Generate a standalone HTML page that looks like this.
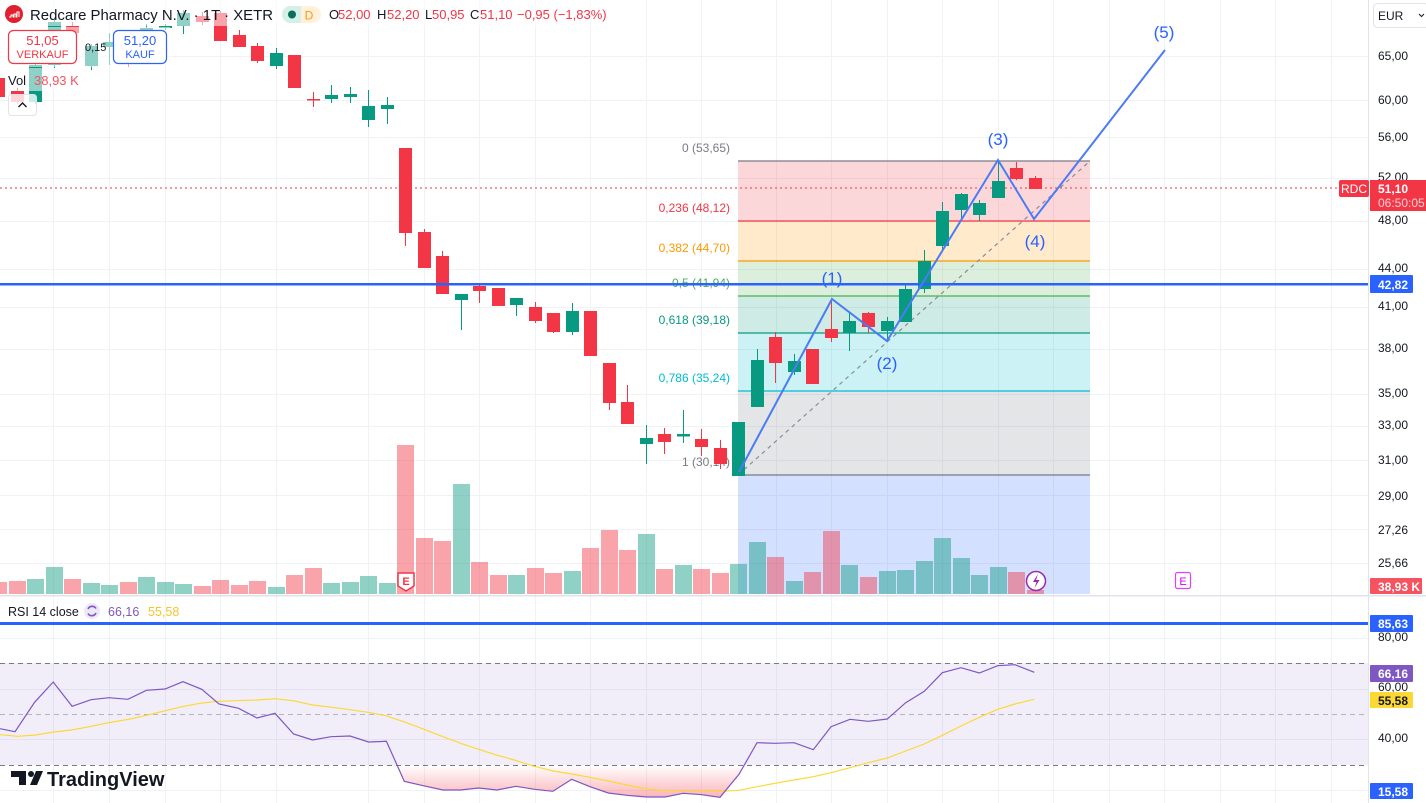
<!DOCTYPE html>
<html><head><meta charset="utf-8"><style>
html,body{margin:0;padding:0;background:#fff;}
svg{display:block;font-family:"Liberation Sans",Arial,sans-serif;}
</style></head><body>
<svg width="1426" height="803" viewBox="0 0 1426 803" xmlns="http://www.w3.org/2000/svg">
<rect width="1426" height="803" fill="#fff"/>
<!-- vertical grid -->
<g stroke="#f0f2f5" stroke-width="1">
<path d="M53.5 0V803M109.5 0V803M165.5 0V803M220.5 0V803M276.5 0V803M368.5 0V803M424.5 0V803M479.5 0V803M535.5 0V803M590.5 0V803M646.5 0V803M701.5 0V803M776.5 0V803M831.5 0V803M887.5 0V803M942.5 0V803M998.5 0V803M1053.5 0V803M1109.5 0V803M1164.5 0V803M1220.5 0V803M1275.5 0V803M1331.5 0V803"/>
<path d="M0 56.5H1368M0 100.5H1368M0 137.5H1368M0 178.5H1368M0 221.5H1368M0 269.5H1368M0 307.5H1368M0 349.5H1368M0 394.5H1368M0 426.5H1368M0 460.5H1368M0 495.5H1368M0 529.5H1368M0 563.5H1368"/>
<path d="M0 638.5H1368M0 689.5H1368M0 739.5H1368M0 790.5H1368"/>
</g>

<!-- Fib fills -->
<rect x="738" y="161" width="352" height="60" fill="rgba(242,54,69,0.2)"/>
<rect x="738" y="221" width="352" height="40" fill="rgba(255,152,0,0.2)"/>
<rect x="738" y="261" width="352" height="35" fill="rgba(76,175,80,0.2)"/>
<rect x="738" y="296" width="352" height="37" fill="rgba(8,153,129,0.2)"/>
<rect x="738" y="333" width="352" height="58" fill="rgba(0,188,212,0.2)"/>
<rect x="738" y="391" width="352" height="84" fill="rgba(120,123,134,0.2)"/>
<rect x="738" y="475" width="352" height="119" fill="rgba(41,98,255,0.2)"/>

<!-- Volume -->
<g>
<rect x="-10" y="582" width="17" height="12" fill="rgba(242,54,69,0.45)"/>
<rect x="9" y="581" width="17" height="13" fill="rgba(242,54,69,0.45)"/>
<rect x="27" y="579" width="17" height="15" fill="rgba(8,153,129,0.45)"/>
<rect x="46" y="567" width="17" height="27" fill="rgba(8,153,129,0.45)"/>
<rect x="64" y="579" width="17" height="15" fill="rgba(242,54,69,0.45)"/>
<rect x="83" y="583" width="17" height="11" fill="rgba(8,153,129,0.45)"/>
<rect x="101" y="585" width="17" height="9" fill="rgba(8,153,129,0.45)"/>
<rect x="120" y="582" width="17" height="12" fill="rgba(242,54,69,0.45)"/>
<rect x="138" y="577" width="17" height="17" fill="rgba(8,153,129,0.45)"/>
<rect x="157" y="582" width="17" height="12" fill="rgba(8,153,129,0.45)"/>
<rect x="175" y="584" width="17" height="10" fill="rgba(8,153,129,0.45)"/>
<rect x="194" y="586" width="17" height="8" fill="rgba(242,54,69,0.45)"/>
<rect x="212" y="580" width="17" height="14" fill="rgba(242,54,69,0.45)"/>
<rect x="231" y="585" width="17" height="9" fill="rgba(242,54,69,0.45)"/>
<rect x="249" y="581" width="17" height="13" fill="rgba(242,54,69,0.45)"/>
<rect x="268" y="587" width="17" height="7" fill="rgba(8,153,129,0.45)"/>
<rect x="286" y="575" width="17" height="19" fill="rgba(242,54,69,0.45)"/>
<rect x="305" y="568" width="17" height="26" fill="rgba(242,54,69,0.45)"/>
<rect x="323" y="583" width="17" height="11" fill="rgba(8,153,129,0.45)"/>
<rect x="342" y="582" width="17" height="12" fill="rgba(8,153,129,0.45)"/>
<rect x="360" y="576" width="17" height="18" fill="rgba(8,153,129,0.45)"/>
<rect x="379" y="583" width="17" height="11" fill="rgba(8,153,129,0.45)"/>
<rect x="397" y="445" width="17" height="149" fill="rgba(242,54,69,0.45)"/>
<rect x="416" y="538" width="17" height="56" fill="rgba(242,54,69,0.45)"/>
<rect x="434" y="541" width="17" height="53" fill="rgba(242,54,69,0.45)"/>
<rect x="453" y="484" width="17" height="110" fill="rgba(8,153,129,0.45)"/>
<rect x="471" y="562" width="17" height="32" fill="rgba(242,54,69,0.45)"/>
<rect x="490" y="575" width="17" height="19" fill="rgba(242,54,69,0.45)"/>
<rect x="508" y="575" width="17" height="19" fill="rgba(8,153,129,0.45)"/>
<rect x="527" y="568" width="17" height="26" fill="rgba(242,54,69,0.45)"/>
<rect x="545" y="573" width="17" height="21" fill="rgba(242,54,69,0.45)"/>
<rect x="564" y="571" width="17" height="23" fill="rgba(8,153,129,0.45)"/>
<rect x="582" y="548" width="17" height="46" fill="rgba(242,54,69,0.45)"/>
<rect x="601" y="530" width="17" height="64" fill="rgba(242,54,69,0.45)"/>
<rect x="619" y="550" width="17" height="44" fill="rgba(242,54,69,0.45)"/>
<rect x="638" y="534" width="17" height="60" fill="rgba(8,153,129,0.45)"/>
<rect x="656" y="569" width="17" height="25" fill="rgba(242,54,69,0.45)"/>
<rect x="675" y="565" width="17" height="29" fill="rgba(8,153,129,0.45)"/>
<rect x="693" y="569" width="17" height="25" fill="rgba(242,54,69,0.45)"/>
<rect x="712" y="573" width="17" height="21" fill="rgba(242,54,69,0.45)"/>
<rect x="730" y="564" width="17" height="30" fill="rgba(8,153,129,0.45)"/>
<rect x="749" y="542" width="17" height="52" fill="rgba(8,153,129,0.45)"/>
<rect x="767" y="557" width="17" height="37" fill="rgba(242,54,69,0.45)"/>
<rect x="786" y="581" width="17" height="13" fill="rgba(8,153,129,0.45)"/>
<rect x="804" y="572" width="17" height="22" fill="rgba(242,54,69,0.45)"/>
<rect x="823" y="531" width="17" height="63" fill="rgba(242,54,69,0.45)"/>
<rect x="841" y="565" width="17" height="29" fill="rgba(8,153,129,0.45)"/>
<rect x="860" y="577" width="17" height="17" fill="rgba(242,54,69,0.45)"/>
<rect x="879" y="571" width="17" height="23" fill="rgba(8,153,129,0.45)"/>
<rect x="897" y="570" width="17" height="24" fill="rgba(8,153,129,0.45)"/>
<rect x="916" y="561" width="17" height="33" fill="rgba(8,153,129,0.45)"/>
<rect x="934" y="538" width="17" height="56" fill="rgba(8,153,129,0.45)"/>
<rect x="953" y="558" width="17" height="36" fill="rgba(8,153,129,0.45)"/>
<rect x="971" y="575" width="17" height="19" fill="rgba(8,153,129,0.45)"/>
<rect x="990" y="567" width="17" height="27" fill="rgba(8,153,129,0.45)"/>
<rect x="1008" y="572" width="17" height="22" fill="rgba(242,54,69,0.45)"/>
<rect x="1027" y="590" width="17" height="4" fill="rgba(242,54,69,0.45)"/>
</g>

<!-- Fib lines -->
<g stroke-width="1.3">
<line x1="738" y1="161" x2="1090" y2="161" stroke="#787b86"/>
<line x1="738" y1="221" x2="1090" y2="221" stroke="#f23645"/>
<line x1="738" y1="261" x2="1090" y2="261" stroke="#ff9800"/>
<line x1="738" y1="296" x2="1090" y2="296" stroke="#4caf50"/>
<line x1="738" y1="333" x2="1090" y2="333" stroke="#089981"/>
<line x1="738" y1="391" x2="1090" y2="391" stroke="#00bcd4"/>
<line x1="738" y1="475" x2="1090" y2="475" stroke="#787b86"/>
</g>
<g font-size="12" text-anchor="end">
<text x="730" y="152" fill="#787b86">0 (53,65)</text>
<text x="730" y="212" fill="#f23645">0,236 (48,12)</text>
<text x="730" y="252" fill="#ff9800">0,382 (44,70)</text>
<text x="730" y="287" fill="#4caf50">0,5 (41,94)</text>
<text x="730" y="324" fill="#089981">0,618 (39,18)</text>
<text x="730" y="382" fill="#00bcd4">0,786 (35,24)</text>
<text x="730" y="466" fill="#787b86">1 (30,14)</text>
</g>

<!-- dashed diagonal -->
<line x1="738" y1="475" x2="1090" y2="161" stroke="#8a8d96" stroke-width="1.2" stroke-dasharray="4 4"/>

<!-- price line dotted -->
<line x1="0" y1="188" x2="1338" y2="188" stroke="#f23645" stroke-width="1" stroke-dasharray="2 3"/>

<!-- Candles -->
<g>
<rect x="-2" y="75" width="1" height="25" fill="#f23645"/><rect x="-8" y="78" width="13" height="19" fill="#f23645"/>
<rect x="17" y="88" width="1" height="16" fill="#f23645"/><rect x="11" y="91" width="13" height="11" fill="#f23645"/>
<rect x="35" y="62" width="1" height="42" fill="#089981"/><rect x="29" y="65" width="13" height="37" fill="#089981"/>
<rect x="54" y="18" width="1" height="50" fill="#089981"/><rect x="48" y="22" width="13" height="43" fill="#089981"/>
<rect x="72" y="22" width="1" height="14" fill="#f23645"/><rect x="66" y="26" width="13" height="7" fill="#f23645"/>
<rect x="91" y="44" width="1" height="26" fill="#089981"/><rect x="85" y="46" width="13" height="20" fill="#089981"/>
<rect x="109" y="33" width="1" height="32" fill="#089981"/><rect x="103" y="42" width="13" height="5" fill="#089981"/>
<rect x="128" y="35" width="1" height="32" fill="#f23645"/><rect x="122" y="40" width="13" height="5" fill="#f23645"/>
<rect x="146" y="24" width="1" height="10" fill="#089981"/><rect x="140" y="28" width="13" height="3" fill="#089981"/>
<rect x="165" y="24" width="1" height="6" fill="#089981"/><rect x="159" y="26" width="13" height="2" fill="#089981"/>
<rect x="183" y="10" width="1" height="24" fill="#089981"/><rect x="177" y="13" width="13" height="13" fill="#089981"/>
<rect x="202" y="12" width="1" height="13" fill="#f23645"/><rect x="196" y="16" width="13" height="6" fill="#f23645"/>
<rect x="220" y="11" width="1" height="30" fill="#f23645"/><rect x="214" y="13" width="13" height="28" fill="#f23645"/>
<rect x="239" y="30" width="1" height="17" fill="#f23645"/><rect x="233" y="35" width="13" height="12" fill="#f23645"/>
<rect x="257" y="43" width="1" height="20" fill="#f23645"/><rect x="251" y="46" width="13" height="15" fill="#f23645"/>
<rect x="276" y="48" width="1" height="21" fill="#089981"/><rect x="270" y="53" width="13" height="13" fill="#089981"/>
<rect x="294" y="55" width="1" height="33" fill="#f23645"/><rect x="288" y="55" width="13" height="33" fill="#f23645"/>
<rect x="313" y="92" width="1" height="15" fill="#f23645"/><rect x="307" y="99" width="13" height="1.5" fill="#f23645"/>
<rect x="331" y="85" width="1" height="18" fill="#089981"/><rect x="325" y="95" width="13" height="4" fill="#089981"/>
<rect x="350" y="87" width="1" height="16" fill="#089981"/><rect x="344" y="94" width="13" height="3" fill="#089981"/>
<rect x="368" y="90" width="1" height="37" fill="#089981"/><rect x="362" y="106" width="13" height="14" fill="#089981"/>
<rect x="387" y="97" width="1" height="27" fill="#089981"/><rect x="381" y="105" width="13" height="4" fill="#089981"/>
<rect x="405" y="148" width="1" height="98" fill="#f23645"/><rect x="399" y="148" width="13" height="85" fill="#f23645"/>
<rect x="424" y="229" width="1" height="39" fill="#f23645"/><rect x="418" y="232" width="13" height="36" fill="#f23645"/>
<rect x="442" y="251" width="1" height="43" fill="#f23645"/><rect x="436" y="256" width="13" height="38" fill="#f23645"/>
<rect x="461" y="294" width="1" height="36" fill="#089981"/><rect x="455" y="294" width="13" height="6" fill="#089981"/>
<rect x="479" y="284" width="1" height="19" fill="#f23645"/><rect x="473" y="286" width="13" height="5" fill="#f23645"/>
<rect x="498" y="288" width="1" height="18" fill="#f23645"/><rect x="492" y="288" width="13" height="18" fill="#f23645"/>
<rect x="516" y="298" width="1" height="18" fill="#089981"/><rect x="510" y="298" width="13" height="7" fill="#089981"/>
<rect x="535" y="302" width="1" height="21" fill="#f23645"/><rect x="529" y="307" width="13" height="14" fill="#f23645"/>
<rect x="553" y="313" width="1" height="20" fill="#f23645"/><rect x="547" y="313" width="13" height="19" fill="#f23645"/>
<rect x="572" y="303" width="1" height="32" fill="#089981"/><rect x="566" y="311" width="13" height="21" fill="#089981"/>
<rect x="590" y="311" width="1" height="45" fill="#f23645"/><rect x="584" y="311" width="13" height="45" fill="#f23645"/>
<rect x="609" y="363" width="1" height="47" fill="#f23645"/><rect x="603" y="363" width="13" height="40" fill="#f23645"/>
<rect x="627" y="385" width="1" height="39" fill="#f23645"/><rect x="621" y="402" width="13" height="22" fill="#f23645"/>
<rect x="646" y="425" width="1" height="39" fill="#089981"/><rect x="640" y="438" width="13" height="6" fill="#089981"/>
<rect x="664" y="428" width="1" height="26" fill="#f23645"/><rect x="658" y="434" width="13" height="8" fill="#f23645"/>
<rect x="683" y="410" width="1" height="33" fill="#089981"/><rect x="677" y="434" width="13" height="2.5" fill="#089981"/>
<rect x="701" y="429" width="1" height="27" fill="#f23645"/><rect x="695" y="439" width="13" height="8" fill="#f23645"/>
<rect x="720" y="440" width="1" height="29" fill="#f23645"/><rect x="714" y="448" width="13" height="16" fill="#f23645"/>
<rect x="738" y="422" width="1" height="54" fill="#089981"/><rect x="732" y="422" width="13" height="54" fill="#089981"/>
<rect x="757" y="349" width="1" height="58" fill="#089981"/><rect x="751" y="360" width="13" height="47" fill="#089981"/>
<rect x="775" y="332" width="1" height="51" fill="#f23645"/><rect x="769" y="337" width="13" height="26" fill="#f23645"/>
<rect x="794" y="354" width="1" height="21" fill="#089981"/><rect x="788" y="361" width="13" height="11" fill="#089981"/>
<rect x="812" y="349" width="1" height="35" fill="#f23645"/><rect x="806" y="349" width="13" height="35" fill="#f23645"/>
<rect x="831" y="299" width="1" height="43" fill="#f23645"/><rect x="825" y="329" width="13" height="9" fill="#f23645"/>
<rect x="849" y="313" width="1" height="38" fill="#089981"/><rect x="843" y="321" width="13" height="12" fill="#089981"/>
<rect x="868" y="312" width="1" height="21" fill="#f23645"/><rect x="862" y="313" width="13" height="14" fill="#f23645"/>
<rect x="887" y="317" width="1" height="25" fill="#089981"/><rect x="881" y="321" width="13" height="10" fill="#089981"/>
<rect x="905" y="285" width="1" height="37" fill="#089981"/><rect x="899" y="289" width="13" height="33" fill="#089981"/>
<rect x="924" y="250" width="1" height="43" fill="#089981"/><rect x="918" y="261" width="13" height="28" fill="#089981"/>
<rect x="942" y="202" width="1" height="48" fill="#089981"/><rect x="936" y="211" width="13" height="35" fill="#089981"/>
<rect x="961" y="193" width="1" height="27" fill="#089981"/><rect x="955" y="194" width="13" height="16" fill="#089981"/>
<rect x="979" y="200" width="1" height="21" fill="#089981"/><rect x="973" y="203" width="13" height="12" fill="#089981"/>
<rect x="998" y="162" width="1" height="36" fill="#089981"/><rect x="992" y="181" width="13" height="17" fill="#089981"/>
<rect x="1016" y="162" width="1" height="18" fill="#f23645"/><rect x="1010" y="168" width="13" height="11" fill="#f23645"/>
<rect x="1035" y="176" width="1" height="13" fill="#f23645"/><rect x="1029" y="178" width="13" height="11" fill="#f23645"/>
</g>

<!-- blue horizontal line 42.82 -->
<rect x="0" y="283" width="1368" height="2.5" fill="#2962ff"/>

<!-- Elliott wave -->
<polyline points="739,472 832,299 887,341 998,160 1034,219 1165,50" fill="none" stroke="#4b7bf5" stroke-width="2" stroke-linejoin="miter"/>
<g font-size="17" fill="#2962ff" text-anchor="middle">
<text x="832" y="284">(1)</text>
<text x="887" y="369">(2)</text>
<text x="998" y="145">(3)</text>
<text x="1035" y="247">(4)</text>
<text x="1164" y="38">(5)</text>
</g>

<!-- markers -->
<path d="M398 573h16v13l-8 5l-8 -5z" fill="#fff" stroke="#f23645" stroke-width="1.5"/>
<text x="406" y="585" font-size="11" font-weight="bold" fill="#f23645" text-anchor="middle">E</text>
<rect x="1175.5" y="572.5" width="15" height="16" rx="2" fill="#fff" stroke="#e040fb" stroke-width="1.2"/>
<text x="1183" y="585" font-size="11" fill="#d500f9" text-anchor="middle">E</text>
<circle cx="1036" cy="581" r="9.5" fill="#fff" stroke="#9c27b0" stroke-width="1.5"/>
<path d="M1038 574l-5 8h3.5l-2 6l5 -8h-3.5z" fill="#9c27b0"/>

<!-- legend fade overlays -->
<rect x="0" y="0" width="610" height="26" fill="rgba(255,255,255,0.55)"/>
<rect x="0" y="27" width="170" height="40" fill="rgba(255,255,255,0.55)"/>
<rect x="6" y="68" width="76" height="23" fill="rgba(255,255,255,0.55)"/>

<!-- header -->
<circle cx="14" cy="14" r="9" fill="#e0202e"/>
<path d="M9 17h2v-2h2v2h1v-3h2v3h1v-5h2v5" stroke="#fff" stroke-width="1" fill="none"/>
<text x="30" y="20" font-size="15" fill="#131722" textLength="243" lengthAdjust="spacingAndGlyphs">Redcare Pharmacy N.V. · 1T · XETR</text>
<rect x="282" y="6" width="39" height="17" rx="8.5" fill="#fff1dc"/>
<path d="M290.5 6h10.5v17h-10.5a8.5 8.5 0 0 1 0 -17z" fill="#d5efe9"/>
<circle cx="292" cy="14.5" r="4" fill="#0b6e58"/>
<text x="309" y="19.5" font-size="12" fill="#ff9800" text-anchor="middle">D</text>
<g font-size="13">
<text x="329" y="19" fill="#131722">O</text><text x="338" y="19" fill="#f23645">52,00</text>
<text x="377" y="19" fill="#131722">H</text><text x="387" y="19" fill="#f23645">52,20</text>
<text x="425" y="19" fill="#131722">L</text><text x="432" y="19" fill="#f23645">50,95</text>
<text x="470" y="19" fill="#131722">C</text><text x="480" y="19" fill="#f23645">51,10</text>
<text x="517" y="19" fill="#f23645">−0,95 (−1,83%)</text>
</g>
<rect x="8.5" y="30.5" width="68" height="33" rx="5" fill="#fff" stroke="#f23645" stroke-width="1.2"/>
<text x="42.5" y="45" font-size="13" fill="#f23645" text-anchor="middle">51,05</text>
<text x="42.5" y="58" font-size="11" fill="#f23645" text-anchor="middle">VERKAUF</text>
<text x="85" y="51" font-size="11" fill="#131722">0,15</text>
<rect x="113.5" y="30.5" width="53" height="33" rx="5" fill="#fff" stroke="#2962ff" stroke-width="1.2"/>
<text x="140" y="45" font-size="13" fill="#2962ff" text-anchor="middle">51,20</text>
<text x="140" y="58" font-size="11" fill="#2962ff" text-anchor="middle">KAUF</text>
<text x="8" y="85" font-size="13" fill="#131722">Vol</text>
<text x="34" y="85" font-size="13" fill="#f7525f">38,93 K</text>
<rect x="8.5" y="94.5" width="28" height="21" rx="3" fill="rgba(255,255,255,0.8)" stroke="#e0e3eb"/>
<path d="M18.5 107l4 -4l4 4" fill="none" stroke="#131722" stroke-width="1.4"/>

<!-- pane separator -->
<rect x="0" y="595" width="1426" height="1.5" fill="#e0e3eb"/>

<!-- RSI pane -->
<rect x="0" y="663" width="1368" height="102" fill="rgba(126,87,194,0.1)"/>
<line x1="0" y1="663.5" x2="1368" y2="663.5" stroke="#787b86" stroke-dasharray="5 4"/>
<line x1="0" y1="714.5" x2="1368" y2="714.5" stroke="#b2b5be" stroke-dasharray="5 4"/>
<line x1="0" y1="765.5" x2="1368" y2="765.5" stroke="#787b86" stroke-dasharray="5 4"/>
<defs><linearGradient id="pg" x1="0" y1="765" x2="0" y2="798" gradientUnits="userSpaceOnUse">
<stop offset="0" stop-color="#f23645" stop-opacity="0"/><stop offset="1" stop-color="#f23645" stop-opacity="0.38"/></linearGradient></defs>
<polygon points="397,765 404.3,781.3 423.2,785.7 442.9,790 460.7,790 478.6,788 497,790 516,786.3 534.6,789.3 552.9,791.3 571.7,779.3 590,786.7 608.3,793 626.7,795.3 646.7,797 665,797 683.3,793.3 701.7,794.7 720,797.3 739,774.3 744.3,765" fill="url(#pg)"/>
<polyline fill="none" stroke="#fdd835" stroke-width="1.2" points="0,734.7 17.9,736.3 35.7,735 53.6,732 71.4,730 89.3,726.7 107,723 128.6,719.3 146.4,715.3 164.3,711 182,706.7 200,703.3 217.9,701.3 235.7,700.7 257,700 275,698.7 292.9,700.7 312.5,705 332,707.3 350,709.7 367.9,712.3 385.7,715.7 403.6,721.7 421.4,728.3 442.9,736.7 460.7,743.3 478.6,749.3 496.4,755 514.3,760 532,765.7 553.3,771 571.7,774 590,777.3 608.3,781 626.7,785 646.7,789 665,790.7 683.3,791.3 701.7,791.3 720,791.3 739,790.3 757,786.7 775,783.3 794,780 813.3,776.7 831,772.7 850,767.7 868.3,762.7 887.3,758 905.7,751 924.3,744 942.3,735.3 961,726 979.3,717.3 997.7,709.3 1015,704 1034.3,699.3"/>
<polyline fill="none" stroke="#7e57c2" stroke-width="1.2" points="0,728.7 15,731.7 34.6,702.3 53.2,682 72.1,706.3 91,699.7 109,697.7 127.9,699.3 146.4,690.3 165,689 182.9,681.7 201.8,689.3 219,704 238.6,708.3 257,718 275,713.3 293.6,734 312.5,740 331,736.7 350,736 368.6,742 386.4,741.3 404.3,781.3 423.2,785.7 442.9,790 460.7,790 478.6,788 497,790 516,786.3 534.6,789.3 552.9,791.3 571.7,779.3 590,786.7 608.3,793 626.7,795.3 646.7,797 665,797 683.3,793.3 701.7,794.7 720,797.3 739,774.3 757,742.7 775,743.3 794,742.7 813.3,749.7 831,726.7 850,719.3 868.3,721.3 887.3,719 905.7,702.7 924.3,691.3 942.3,672.7 961,667.7 979.3,673 997.7,665.7 1015,664.7 1034.3,672.3"/>
<rect x="0" y="622" width="1368" height="3" fill="#2962ff"/>
<text x="8" y="616" font-size="12.5" fill="#131722">RSI 14 close</text>
<circle cx="92" cy="611" r="8" fill="#ede7f6"/>
<path d="M88 609a4.5 4.5 0 0 1 8 -0.5M96 613a4.5 4.5 0 0 1 -8 0.5" fill="none" stroke="#7e57c2" stroke-width="1.6"/>
<text x="108" y="616" font-size="12.5" fill="#7e57c2">66,16</text>
<text x="148" y="616" font-size="12.5" fill="#f7c52a">55,58</text>

<!-- TradingView logo -->
<g fill="#131722">
<rect x="11" y="771" width="15" height="6"/><rect x="19" y="771" width="7" height="14"/>
<circle cx="31" cy="774" r="3"/>
<polygon points="30,785 36,771 43,771 37,785"/>
<text x="47" y="786" font-size="20" font-weight="bold">TradingView</text>
</g>

<!-- right axis -->
<rect x="1368" y="0" width="58" height="803" fill="#fff"/>
<rect x="1368" y="0" width="1" height="803" fill="#e0e3eb"/>
<rect x="1368" y="595" width="58" height="1.5" fill="#e0e3eb"/>
<rect x="1373.5" y="3.5" width="55" height="24" rx="4" fill="#fff" stroke="#e0e3eb"/>
<text x="1378" y="20" font-size="12" fill="#131722">EUR</text>
<path d="M1419 14l2.5 2.5l2.5 -2.5" fill="none" stroke="#131722" stroke-width="1"/>
<g font-size="12" fill="#131722">
<text x="1378" y="60">65,00</text>
<text x="1378" y="104">60,00</text>
<text x="1378" y="141">56,00</text>
<text x="1378" y="181">52,00</text>
<text x="1378" y="224">48,00</text>
<text x="1378" y="272">44,00</text>
<text x="1378" y="310">41,00</text>
<text x="1378" y="352">38,00</text>
<text x="1378" y="397">35,00</text>
<text x="1378" y="429">33,00</text>
<text x="1378" y="464">31,00</text>
<text x="1378" y="500">29,00</text>
<text x="1378" y="534">27,26</text>
<text x="1378" y="567">25,66</text>
<text x="1378" y="641">80,00</text>
<text x="1378" y="691">60,00</text>
<text x="1378" y="742">40,00</text>
</g>
<rect x="1339" y="180" width="30" height="17" rx="2" fill="#f23645"/>
<text x="1354" y="193" font-size="12" fill="#fff" text-anchor="middle">RDC</text>
<rect x="1370" y="180" width="56" height="31" fill="#f23645"/>
<text x="1378" y="193" font-size="12" font-weight="bold" fill="#fff">51,10</text>
<text x="1378" y="207" font-size="12" fill="#ffd0d4">06:50:05</text>
<rect x="1370" y="275" width="43" height="18" rx="1" fill="#2962ff"/>
<text x="1378" y="289" font-size="12" font-weight="bold" fill="#fff">42,82</text>
<rect x="1370" y="578" width="52" height="16" rx="1" fill="#f7525f"/>
<text x="1378" y="591" font-size="12" font-weight="bold" fill="#fff">38,93 K</text>
<rect x="1370" y="615" width="43" height="17" rx="1" fill="#2962ff"/>
<text x="1378" y="628" font-size="12" font-weight="bold" fill="#fff">85,63</text>
<rect x="1370" y="665" width="43" height="17" rx="1" fill="#7e57c2"/>
<text x="1378" y="678" font-size="12" font-weight="bold" fill="#fff">66,16</text>
<rect x="1370" y="692" width="43" height="16" rx="1" fill="#fdd835"/>
<text x="1378" y="705" font-size="12" font-weight="bold" fill="#131722">55,58</text>
<rect x="1370" y="783" width="43" height="16" rx="1" fill="#2962ff"/>
<text x="1378" y="796" font-size="12" font-weight="bold" fill="#fff">15,58</text>
</svg>
</body></html>
